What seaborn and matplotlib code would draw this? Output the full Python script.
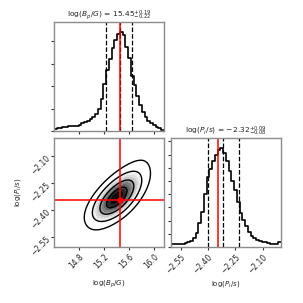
import numpy as np
import pandas as pd
import matplotlib
matplotlib.use("Agg")
import matplotlib.pyplot as plt
from matplotlib.ticker import FixedLocator, MultipleLocator, NullFormatter
import seaborn as sns

sns.set_style("white")
plt.rcParams['font.family'] = ['DejaVu Sans']

# ---------------- data ----------------
label_b = r"log($B_p/G$)"
label_p = r"log($P_i/s$)"

b_range = [14.39, 16.16]
p_range = [-2.603, -2.0]
n_bins = 40

b_counts = [22, 33, 38, 44, 50, 55, 55, 55, 60, 72,
            88, 104, 110, 132, 154, 187, 242, 352, 528, 682,
            803, 924, 1012, 1078, 1100, 1067, 935, 814, 616, 506,
            385, 286, 209, 154, 110, 88, 66, 50, 33, 17]
p_counts = [10, 10, 10, 11, 13, 16, 19, 24, 34, 53,
            90, 131, 199, 266, 296, 326, 349, 368, 375, 356,
            326, 289, 248, 214, 169, 128, 101, 79, 56, 41,
            32, 26, 22, 20, 17, 15, 13, 10, 11, 19]

b_quantiles = [15.23, 15.45, 15.64]
p_quantiles = [-2.40, -2.32, -2.23]
b_title = r"log($B_p/G$) = $15.45^{+0.19}_{-0.22}$"
p_title = r"log($P_i/s$) = $-2.32^{+0.09}_{-0.08}$"

truth_b = 15.46
truth_p = -2.345

joint_center_b = 15.42
joint_slope = 1.87
joint_scatter = 0.17
contour_levels = [0.135, 0.32, 0.58, 0.82]

b_ticks = [14.8, 15.2, 15.6, 16.0]
p_ticks = [-2.55, -2.40, -2.25, -2.10]

# ---------------- derived tables ----------------
b_edges = np.linspace(b_range[0], b_range[1], n_bins + 1)
p_edges = np.linspace(p_range[0], p_range[1], n_bins + 1)
b_centers = 0.5 * (b_edges[1:] + b_edges[:-1])
p_centers = 0.5 * (p_edges[1:] + p_edges[:-1])

df_b = pd.DataFrame({"b": b_centers, "w": np.asarray(b_counts, float)})
df_p = pd.DataFrame({"p": p_centers, "w": np.asarray(p_counts, float)})

gb, gp = np.meshgrid(b_centers, p_centers)
wp = np.tile(np.asarray(p_counts, float)[:, None], (1, n_bins))
cond = np.exp(-0.5 * ((gb - (joint_center_b + joint_slope * (gp - p_quantiles[1]))) / joint_scatter) ** 2)
df_j = pd.DataFrame({"b": gb.ravel(), "p": gp.ravel(), "w": (wp * cond).ravel()})

# ---------------- figure ----------------
fig, axes = plt.subplots(2, 2, figsize=(3.03, 3.03), dpi=100)
fig.subplots_adjust(left=0.178, right=0.927, bottom=0.185, top=0.927,
                    wspace=0.064, hspace=0.064)
ax_b, ax_off = axes[0]
ax_j, ax_p = axes[1]
ax_off.axis("off")

spine_col = "#8c8c8c"
for ax in (ax_b, ax_j, ax_p):
    for s in ax.spines.values():
        s.set_color(spine_col)
        s.set_linewidth(1.0)
    ax.tick_params(direction="out", length=2.5, width=0.8, color="#333333",
                   labelsize=5.5, pad=1.5, bottom=True, left=True)

# top histogram
sns.histplot(data=df_b, x="b", weights="w", bins=n_bins, binrange=b_range,
             element="step", fill=False, color="black", linewidth=1.2, ax=ax_b)
for q in b_quantiles:
    ax_b.axvline(q, ls="--", color="black", lw=0.9)
ax_b.axvline(truth_b, color="red", lw=1.1)
ax_b.set_xlim(b_range)
ax_b.set_ylim(0, 1.1 * max(b_counts))
ax_b.xaxis.set_major_locator(FixedLocator(b_ticks))
ax_b.yaxis.set_major_locator(MultipleLocator(250))
ax_b.yaxis.set_major_formatter(NullFormatter())
ax_b.xaxis.set_major_formatter(NullFormatter())
ax_b.set_xlabel("")
ax_b.set_ylabel("")
ax_b.set_title(b_title, fontsize=5.4, pad=3)

# right histogram
sns.histplot(data=df_p, x="p", weights="w", bins=n_bins, binrange=p_range,
             element="step", fill=False, color="black", linewidth=1.2, ax=ax_p)
for q in p_quantiles:
    ax_p.axvline(q, ls="--", color="black", lw=0.9)
ax_p.axvline(truth_p, color="red", lw=1.1)
ax_p.set_xlim(p_range)
ax_p.set_ylim(0, 1.1 * max(p_counts))
ax_p.xaxis.set_major_locator(FixedLocator(p_ticks))
ax_p.yaxis.set_major_locator(MultipleLocator(50))
ax_p.yaxis.set_major_formatter(NullFormatter())
ax_p.set_ylabel("")
ax_p.set_xlabel(label_p, fontsize=5)
ax_p.xaxis.set_label_coords(0.5, -0.29)
ax_p.set_title(p_title, fontsize=5.4, pad=3)
for t in ax_p.get_xticklabels():
    t.set_rotation(45)
    t.set_ha("right")
    t.set_rotation_mode("anchor")

# joint panel
sns.kdeplot(data=df_j, x="b", y="p", weights="w", fill=True, levels=12,
            thresh=0.3, cmap="Greys", bw_adjust=1.4, ax=ax_j)
sns.kdeplot(data=df_j, x="b", y="p", weights="w", fill=False,
            levels=contour_levels, colors="black",
            linewidths=1.0, bw_adjust=1.4, ax=ax_j)
ax_j.axvline(truth_b, color="red", lw=1.1)
ax_j.axhline(truth_p, color="red", lw=1.1)
ax_j.plot([truth_b], [truth_p], "o", color="red", ms=3.5)
ax_j.set_xlim(b_range)
ax_j.set_ylim(p_range)
ax_j.xaxis.set_major_locator(FixedLocator(b_ticks))
ax_j.yaxis.set_major_locator(FixedLocator(p_ticks))
ax_j.set_xlabel(label_b, fontsize=5)
ax_j.set_ylabel(label_p, fontsize=5)
ax_j.xaxis.set_label_coords(0.5, -0.29)
ax_j.yaxis.set_label_coords(-0.285, 0.5)
for t in ax_j.get_xticklabels():
    t.set_rotation(45)
    t.set_ha("right")
    t.set_rotation_mode("anchor")
for t in ax_j.get_yticklabels():
    t.set_rotation(45)
    t.set_ha("right")
    t.set_rotation_mode("anchor")

fig.savefig("out.png", dpi=100)
